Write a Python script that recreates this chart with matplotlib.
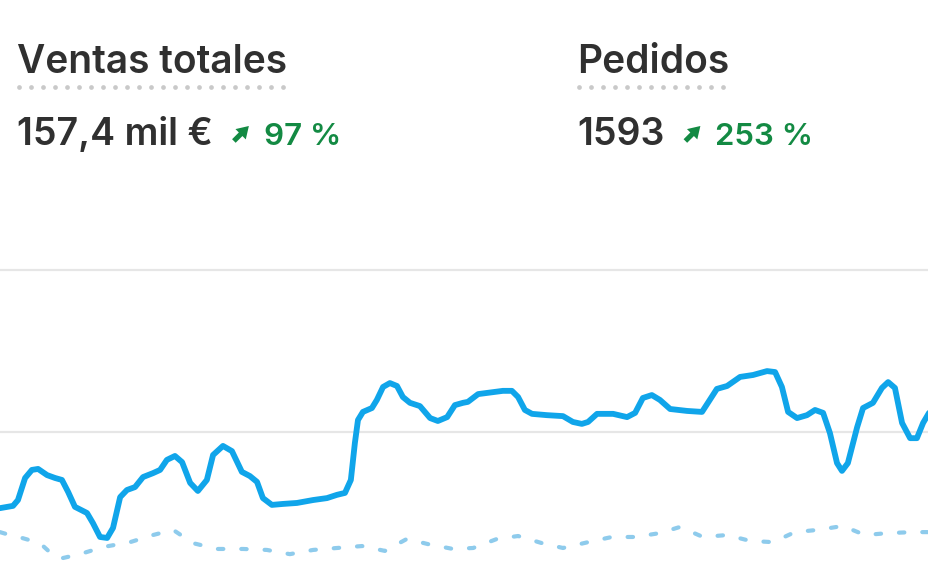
import matplotlib.pyplot as plt
from matplotlib import font_manager
from matplotlib.patches import FancyArrowPatch

# chart data: x in days, values in thousands of euros
ventas_dias = [0.00, 0.42, 0.58, 0.81, 1.03, 1.23, 1.52, 1.78, 2.00, 2.20, 2.42, 2.81, 3.00, 3.23,
               3.46, 3.65, 3.88, 4.10, 4.36, 4.62, 4.94, 5.17, 5.39, 5.65, 5.88, 6.14, 6.39, 6.68,
               6.88, 7.20, 7.49, 7.81, 8.07, 8.30, 8.49, 8.78, 9.14, 9.59, 10.11, 10.56, 10.88,
               11.14, 11.33, 11.46, 11.56, 11.72, 12.01, 12.17, 12.37, 12.59, 12.82, 13.01, 13.24,
               13.56, 13.89, 14.14, 14.44, 14.69, 14.95, 15.11, 15.44, 15.92, 16.24, 16.53, 16.73,
               16.95, 17.18, 17.66, 18.18, 18.50, 18.79, 18.99, 19.28, 19.80, 20.25, 20.51, 20.76,
               21.05, 21.31, 21.64, 22.19, 22.67, 22.86, 23.15, 23.48, 23.90, 24.32, 24.77, 25.03,
               25.25, 25.45, 25.74, 26.06, 26.32, 26.58, 26.80, 27.03, 27.19, 27.38, 27.68, 27.87,
               28.19, 28.48, 28.68, 28.90, 29.13, 29.39, 29.61, 29.81, 30.00]
ventas_actual = [2.65, 2.72, 2.90, 3.58, 3.83, 3.86, 3.67, 3.58, 3.52, 3.15, 2.69, 2.50, 2.19, 1.76,
                 1.73, 2.04, 2.99, 3.21, 3.30, 3.61, 3.73, 3.83, 4.14, 4.26, 4.07, 3.43, 3.18, 3.52,
                 4.29, 4.57, 4.41, 3.77, 3.64, 3.46, 2.96, 2.75, 2.78, 2.81, 2.90, 2.96, 3.06,
                 3.12, 3.52, 4.66, 5.37, 5.62, 5.74, 5.99, 6.39, 6.51, 6.42, 6.08, 5.90,
                 5.80, 5.43, 5.34, 5.46, 5.83, 5.90, 5.93, 6.17, 6.23, 6.27, 6.27, 6.08,
                 5.68, 5.56, 5.52, 5.49, 5.31, 5.25, 5.31, 5.56, 5.56, 5.46, 5.59, 6.05,
                 6.14, 5.99, 5.71, 5.65, 5.62, 5.90, 6.33, 6.42, 6.70, 6.76, 6.88, 6.85,
                 6.39, 5.62, 5.43, 5.52, 5.68, 5.59, 4.97, 4.04, 3.80, 4.04, 5.15, 5.74,
                 5.90, 6.36, 6.54, 6.36, 5.28, 4.81, 4.81, 5.28, 5.59]

previo_dias = [0.00, 0.42, 0.71, 1.29, 1.78, 2.03, 2.58, 3.33, 4.20, 4.94, 5.59, 6.23, 7.01, 7.85,
               8.62, 9.36, 10.11, 10.88, 11.69, 12.43, 13.14, 13.82, 14.63, 15.28, 16.05, 16.73,
               17.50, 18.18, 18.99, 19.76, 20.51, 21.31, 21.96, 22.70, 23.48, 24.22, 24.96, 25.67,
               26.42, 27.22, 27.93, 28.68, 29.48, 30.00]
previo_valores = [1.91, 1.79, 1.73, 1.57, 1.14, 1.11, 1.23, 1.45, 1.60, 1.82, 1.98, 1.57, 1.39, 1.39,
                  1.36, 1.23, 1.36, 1.42, 1.48, 1.33, 1.70, 1.54, 1.39, 1.42, 1.70, 1.79,
                  1.57, 1.42, 1.60, 1.76, 1.76, 1.88, 2.07, 1.76, 1.82, 1.64, 1.60, 1.91,
                  1.98, 2.10, 1.82, 1.88, 1.91, 1.91]

grid_ticks = [0, 5, 10]

metricas = [
    ("Ventas totales", "157,4 mil €", "97 %"),
    ("Pedidos", "1593", "253 %"),
]

fuentes = {f.name for f in font_manager.fontManager.ttflist}
familia = ["Inter", "DejaVu Sans"] if "Inter" in fuentes else ["DejaVu Sans"]
plt.rcParams["font.family"] = familia

W, H = 929, 575
VERDE = "#138a43"
TEXTO = "#303030"

fig = plt.figure(figsize=(W / 100, H / 100), dpi=100)
fig.patch.set_facecolor("white")

ax = fig.add_axes([0, 0, 1, 1])
ax.set_yticks(grid_ticks)
ax.set_xticks([])
ax.set_xlim(0, 30)
ax.set_ylim((594 - 575) / 32.4, 594 / 32.4)
ax.grid(axis="y", color="#e6e6e6", linewidth=1.6)
ax.set_axisbelow(True)
for s in ax.spines.values():
    s.set_visible(False)
ax.tick_params(left=False, bottom=False, labelleft=False, labelbottom=False)

ax.plot(previo_dias, previo_valores, color="#8ecbec", linewidth=3.0,
        linestyle=(0, (1.3, 4.3)), dash_capstyle="round", solid_joinstyle="round")
ax.plot(ventas_dias, ventas_actual, color="#10a5ea", linewidth=4.2,
        solid_capstyle="round", solid_joinstyle="round")


def px(x, y):
    return x / W, 1 - y / H


x_cols = [17, 577]
for xc, (titulo, valor, cambio) in zip(x_cols, metricas):
    t = fig.text(*px(xc, 73), titulo, fontsize=28, fontweight="semibold",
                 color=TEXTO, va="baseline", ha="left")
    fig.canvas.draw()
    ancho = t.get_window_extent().width
    xs = [(xc + 2 + i * 12) / W for i in range(60) if 2 + i * 12 <= ancho]
    fig.lines.append(plt.Line2D(xs, [1 - 87 / H] * len(xs), transform=fig.transFigure,
                                linestyle="none", marker="o", markersize=3.4,
                                markerfacecolor="#c9c9c9", markeredgewidth=0))

    v = fig.text(*px(xc, 145), valor, fontsize=27, fontweight="semibold",
                 color=TEXTO, va="baseline", ha="left")
    fig.canvas.draw()
    xa = v.get_window_extent().x1 + 21
    flecha = FancyArrowPatch(px(xa, 141), px(xa + 15, 126), transform=fig.transFigure,
                             arrowstyle="simple,head_length=0.6,head_width=0.75,tail_width=0.26",
                             mutation_scale=14, color=VERDE, linewidth=0,
                             shrinkA=0, shrinkB=0)
    fig.patches.append(flecha)
    fig.text(*px(xa + 30, 145), cambio, fontsize=22.5, fontweight="semibold",
             color=VERDE, va="baseline", ha="left")

fig.savefig("out.png", dpi=100, facecolor="white")
